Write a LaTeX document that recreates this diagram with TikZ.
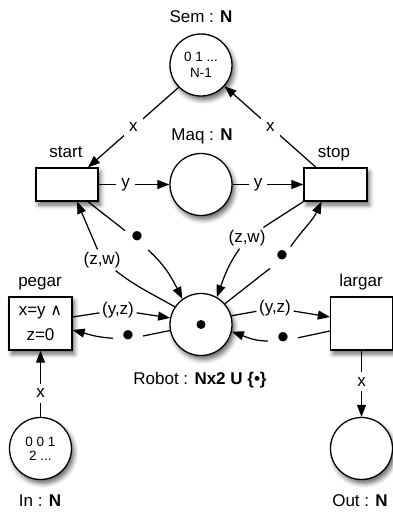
\documentclass[tikz,border=0pt]{standalone}
\usepackage{fontspec}
\setmainfont{Liberation Sans}
\newfontfamily\djv{DejaVu Sans}
\usetikzlibrary{arrows.meta,shadows.blur}
\begin{document}
\begin{tikzpicture}[x=1pt,y=-1pt,
  font=\fontsize{17}{20}\selectfont,
  shad/.style={blur shadow={shadow xshift=2.5pt,shadow yshift=-4pt,shadow blur radius=4.5pt,shadow opacity=60}},
  place/.style={circle,draw,line width=1.3pt,fill=white,minimum size=62pt,inner sep=0pt,shad},
  trans/.style={rectangle,draw,line width=1.3pt,fill=white,inner sep=0pt,shad},
  arc/.style={line width=1.25pt,-{Triangle[length=12pt,width=9pt]}},
  plain/.style={line width=1.25pt},
  lbl/.style={inner sep=2.5pt},
  dotlbl/.style={circle,inner sep=0pt,minimum size=30pt,font=\fontsize{34}{34}\selectfont},
  onlbl/.style={fill=white,inner sep=5pt},
  pname/.style={anchor=base},
  tok/.style={align=center,font=\fontsize{13.5}{16}\selectfont}
]
\useasboundingbox (0,0) rectangle (393,512);

% places
\node[place,tok] (sem) at (201,65) {0 1 ...\\N-1};
\node[place] (maq) at (201,184.5) {};
\node[place] (robot) at (201,324.5) {};
\fill (robot.center) circle (4.5pt);
\node[place,tok,font=\fontsize{13.5}{14}\selectfont] (in) at (40.5,448.5) {0 0 1\\2 ...};
\node[place] (out) at (361.5,448.5) {};

% transitions
\node[trans,minimum width=62pt,minimum height=33pt] (start) at (67,184.5) {};
\node[trans,minimum width=63pt,minimum height=33pt] (stop) at (335.5,184.5) {};
\node[trans,minimum width=63pt,minimum height=53pt,align=center,font=\fontsize{17}{25}\selectfont] (pegar) at (40.5,323.5) {x=y {\djv\fontsize{16}{25}\selectfont ∧}\\z=0};
\node[trans,minimum width=62pt,minimum height=53pt] (largar) at (361.5,323.5) {};

% names
\node[pname] (semname) at (201,22) {Sem : \textbf{N}};
\node[pname] (maqname) at (202,140) {Maq : \textbf{N}};
\node[pname] (startname) at (66,157) {start};
\node[pname] (stopname) at (334,157) {stop};
\node[pname] (pegarname) at (40,286) {pegar};
\node[pname] (largarname) at (361,286) {largar};
\node[pname] (robotname) at (200,384) {Robot : \textbf{Nx2 U \{•\}}};
\node[pname] (inname) at (40,506) {In : \textbf{N}};
\node[pname] (outname) at (360,506) {Out : \textbf{N}};

% straight arcs
\draw[arc] (sem.225) -- node[onlbl,pos=0.5] {x} ([xshift=21pt]start.north);
\draw[arc] ([xshift=-19.5pt]stop.north) -- node[onlbl,pos=0.5] {x} (sem.318);
\draw[arc] (start) -- node[onlbl,pos=0.38] {y} (maq);
\draw[arc] (maq) -- node[onlbl,pos=0.36] {y} (stop);
\draw[arc] (in) -- node[onlbl,pos=0.36] {x} (pegar);
\draw[arc] (largar) -- node[onlbl,pos=0.47] {x} (out);

% start <-> robot
\node[lbl] (zw1) at (102,260) {(z,w)};
\draw[plain] (robot.146) to[out=150,in=-38] (zw1);
\draw[arc] (zw1) -- ([xshift=10pt]start.south);
\node[dotlbl] (d1) at (137,240) {•};
\draw[plain] ([xshift=21pt]start.south) -- (d1);
\draw[arc] (d1) to[out=-42,in=117] (robot.126);

% stop <-> robot
\node[lbl] (zw2) at (247,238) {(z,w)};
\draw[plain] (stop.south west) -- (zw2);
\draw[arc] (zw2) to[out=-125,in=70] (robot.60);
\node[dotlbl] (d2) at (282,259) {•};
\draw[plain] (robot.41) -- (d2);
\draw[arc] (d2) to[out=55,in=-115] ([xshift=-14pt]stop.south);

% pegar <-> robot
\node[lbl] (yz1) at (118,310) {(y,z)};
\draw[plain] ([yshift=6.5pt]pegar.east) -- (yz1);
\draw[arc] (yz1) -- (robot.168);
\node[dotlbl] (d3) at (128,339) {•};
\draw[plain] (robot.191) -- (d3);
\draw[arc] (d3) to[out=177,in=-15] ([yshift=-6.5pt]pegar.east);

% largar <-> robot
\node[lbl] (yz2) at (275,308) {(y,z)};
\draw[plain] (robot.16) -- (yz2);
\draw[arc] (yz2) -- ([yshift=6.5pt]largar.west);
\node[dotlbl] (d4) at (283,341) {•};
\draw[plain] ([yshift=-7.5pt]largar.west) -- (d4);
\draw[arc] (d4) to[out=180,in=-20] (robot.-13);
\end{tikzpicture}
\end{document}
